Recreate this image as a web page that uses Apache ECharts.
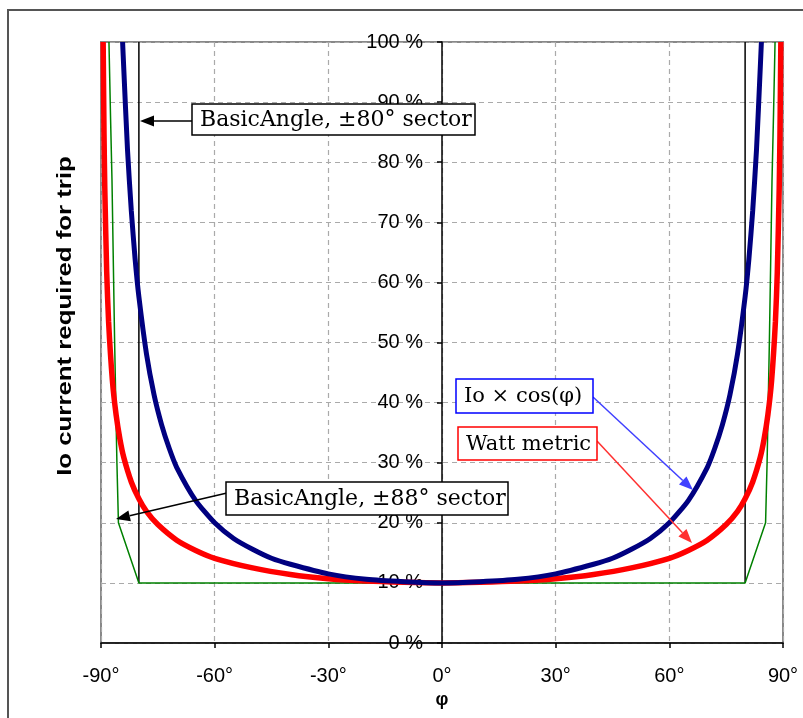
<!DOCTYPE html>
<html>
<head>
<meta charset="utf-8">
<script src="https://cdn.jsdelivr.net/npm/echarts@6/dist/echarts.min.js"></script>
<style>
  html, body { margin: 0; padding: 0; background: #fff; }
  #chart { width: 803px; height: 718px; }
</style>
</head>
<body>
<div id="chart"></div>
<script>
// angles in degrees, trip current in %
const blueAngles = [-84.3, -84, -83, -82, -81, -80, -78, -76, -74, -72, -70, -65, -60, -55, -50, -45, -40, -30, -20, -10, 0,
  10, 20, 30, 40, 45, 50, 55, 60, 65, 70, 72, 74, 76, 78, 80, 81, 82, 83, 84, 84.3];
const blueValues = [100, 95.7, 82.0, 71.9, 63.9, 57.6, 48.1, 41.3, 36.3, 32.4, 29.2, 23.7, 20.0, 17.4, 15.6, 14.1, 13.1, 11.5, 10.6, 10.2, 10.0,
  10.2, 10.6, 11.5, 13.1, 14.1, 15.6, 17.4, 20.0, 23.7, 29.2, 32.4, 36.3, 41.3, 48.1, 57.6, 63.9, 71.9, 82.0, 95.7, 100];

const redAngles = [-89.43, -89.2, -89, -88.5, -88, -87, -86, -85, -84, -82, -80, -78, -75, -70, -65, -60, -50, -40, -30, -20, -10, 0,
  10, 20, 30, 40, 50, 60, 65, 70, 75, 78, 80, 82, 84, 85, 86, 87, 88, 88.5, 89, 89.2, 89.43];
const redValues = [100, 84.6, 75.7, 61.8, 53.5, 43.7, 37.9, 33.9, 30.9, 26.8, 24.0, 21.9, 19.7, 17.1, 15.4, 14.1, 12.5, 11.4, 10.7, 10.3, 10.1, 10.0,
  10.1, 10.3, 10.7, 11.4, 12.5, 14.1, 15.4, 17.1, 19.7, 21.9, 24.0, 26.8, 30.9, 33.9, 37.9, 43.7, 53.5, 61.8, 75.7, 84.6, 100];

const greenAngles = [-87.9, -87.5, -87.1, -86.4, -85.8, -85.4, -80, 80, 85.4, 85.8, 86.4, 87.1, 87.5, 87.9];
const greenValues = [100, 88, 77, 50, 30, 20, 10, 10, 20, 30, 50, 77, 88, 100];

const sectorAngles = [-80, 80];
const sectorFrom = 10;
const sectorTo = 100;

const xTicks = [-90, -60, -30, 0, 30, 60, 90];

function pairs(xs, ys) {
  return xs.map((x, i) => [x, ys[i]]);
}

function arrow(x1, y1, x2, y2, color) {
  const dx = x2 - x1, dy = y2 - y1;
  const len = Math.sqrt(dx * dx + dy * dy);
  const ux = dx / len, uy = dy / len;
  const hl = 14, hw = 5.5;
  const bx = x2 - ux * hl, by = y2 - uy * hl;
  return [
    { type: 'line', z: 100, shape: { x1: x1, y1: y1, x2: bx, y2: by }, style: { stroke: color, lineWidth: 1.5 } },
    { type: 'polygon', z: 100, shape: { points: [[x2, y2], [bx - uy * hw, by + ux * hw], [bx + uy * hw, by - ux * hw]] }, style: { fill: color } }
  ];
}

function box(x, y, w, h, label, color, size) {
  return [
    { type: 'rect', z: 100, shape: { x: x, y: y, width: w, height: h }, style: { fill: '#fff', stroke: color, lineWidth: 1.5 } },
    { type: 'text', z: 101, x: x + 8, y: y + h / 2 + 1, style: { text: label, font: size + 'px "DejaVu Serif"', fill: '#000', verticalAlign: 'middle' } }
  ];
}

let chart = echarts.init(document.getElementById('chart'));
let option = {
  animation: false,
  backgroundColor: '#fff',
  grid: { left: 101, right: 20, top: 42, bottom: 75, show: true, borderColor: '#888', borderWidth: 2, backgroundColor: 'transparent' },
  xAxis: {
    type: 'value', min: -90, max: 90, interval: 30,
    name: 'φ', nameLocation: 'middle', nameGap: 41,
    nameTextStyle: { fontFamily: 'Arial', fontWeight: 'bold', fontSize: 18, color: '#000' },
    axisLine: { lineStyle: { color: '#000', width: 1.5 } },
    axisTick: { length: 5, lineStyle: { color: '#000', width: 1.5 } },
    axisLabel: { margin: 23, fontFamily: 'Arial', fontSize: 20, color: '#000', formatter: v => xTicks.includes(v) ? v + '°' : '' },
    splitLine: { lineStyle: { color: '#aaa', type: [5, 4], width: 1.2 } }
  },
  yAxis: {
    type: 'value', min: 0, max: 100, interval: 10,
    axisLine: { onZero: true, lineStyle: { color: '#000', width: 1.5 } },
    axisTick: { length: 5, lineStyle: { color: '#000', width: 1.5 } },
    axisLabel: { margin: -322, fontFamily: 'Arial', fontSize: 20, color: '#000', formatter: '{value} %' },
    splitLine: { lineStyle: { color: '#aaa', type: [5, 4], width: 1.2 } }
  },
  series: [
    { type: 'line', data: [[sectorAngles[0], sectorFrom], [sectorAngles[0], sectorTo]], showSymbol: false, lineStyle: { color: '#000', width: 1.5 }, z: 3 },
    { type: 'line', data: [[sectorAngles[1], sectorFrom], [sectorAngles[1], sectorTo]], showSymbol: false, lineStyle: { color: '#000', width: 1.5 }, z: 3 },
    { type: 'line', data: pairs(greenAngles, greenValues), showSymbol: false, lineStyle: { color: '#008000', width: 1.5 }, z: 4 },
    { type: 'line', data: pairs(redAngles, redValues), showSymbol: false, smooth: 0.2, lineStyle: { color: '#ff0000', width: 5.5 }, z: 5 },
    { type: 'line', data: pairs(blueAngles, blueValues), showSymbol: false, smooth: 0.2, lineStyle: { color: '#000080', width: 5 }, z: 6 }
  ],
  graphic: [
    { type: 'rect', z: 0, silent: true, shape: { x: 8, y: 10, width: 820, height: 730 }, style: { fill: 'none', stroke: '#555', lineWidth: 2 } },
    { type: 'text', z: 100, x: 65, y: 316, rotation: Math.PI / 2, scaleX: 1.29, style: { text: 'Io current required for trip', font: 'bold 20px Arial', fill: '#000', align: 'center', verticalAlign: 'middle' } },
    ...arrow(192, 121, 140, 121, '#000'),
    ...box(192, 104, 283, 31, 'BasicAngle, ±80° sector', '#000', 22),
    ...arrow(227, 493, 116, 519, '#000'),
    ...box(226, 482, 282, 33, 'BasicAngle, ±88° sector', '#000', 22),
    ...arrow(593, 397, 693, 490, '#4040ff'),
    ...box(456, 379, 137, 34, 'Io × cos(φ)', '#0000ff', 21),
    ...arrow(597, 441, 692, 543, '#ff3030'),
    ...box(458, 427, 139, 33, 'Watt metric', '#ff0000', 21)
  ]
};
chart.setOption(option);
</script>
</body>
</html>
